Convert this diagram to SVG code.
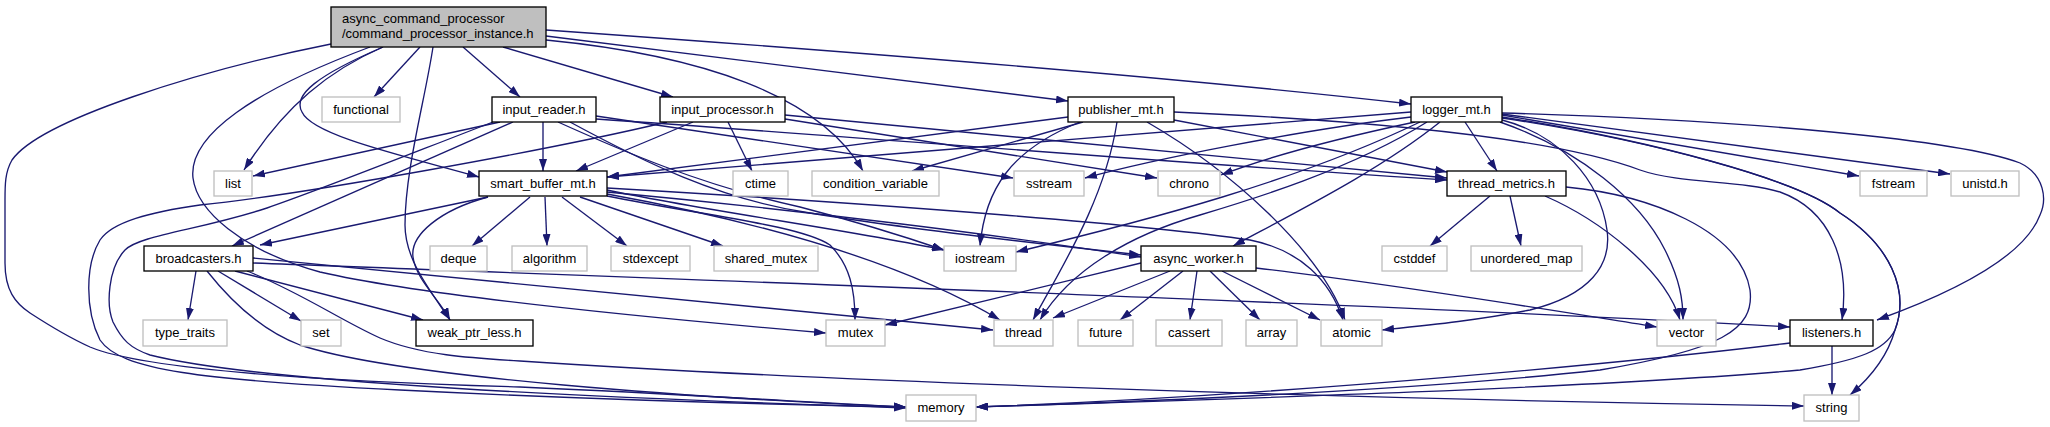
<svg xmlns="http://www.w3.org/2000/svg" width="2050" height="427" viewBox="0 0 2050 427">
<style>
text{font-family:"Liberation Sans",Arial,Helvetica,sans-serif;font-size:13px;fill:#000;text-anchor:middle}
.ext rect{fill:#fff;stroke:#bfbfbf;stroke-width:1.33}
.int rect{fill:#fff;stroke:#000;stroke-width:1.33}
.root rect{fill:#bfbfbf;stroke:#000;stroke-width:1.33}
.root text{text-anchor:start}
#edges path{fill:none;stroke:#191970;stroke-width:1.33;marker-end:url(#arr)}
</style>
<defs>
<marker id="arr" markerUnits="userSpaceOnUse" markerWidth="12" markerHeight="8" viewBox="0 0 12 8" refX="12" refY="4" orient="auto"><path d="M0,0 L12,4 L0,8 z" fill="#191970"/></marker>
</defs>
<rect width="2050" height="427" fill="#fff"/>
<g id="edges">
<path d="M331,44 C 200,70 40,120 12,160 C 5,172 5,185 5,200 L5,263 C 5,290 15,303 30,313 C 50,326 70,338 90,347 C 150,372 350,382 520,387 C 700,395 820,403 906,407"/>
<path d="M383,47 C 330,70 285,105 244,170"/>
<path d="M420,47 L374,97"/>
<path d="M383,47 C 318,75 292,95 302,112 C 312,135 400,155 479,177"/>
<path d="M370,47 C 255,90 188,135 193,178 C 197,210 240,250 320,272 C 420,295 650,318 826,333"/>
<path d="M433,47 C 425,100 405,170 405,225 C 405,260 430,290 450,320"/>
<path d="M463,47 L520,97"/>
<path d="M503,47 L673,97"/>
<path d="M546,40 C 700,55 820,95 863,171"/>
<path d="M546,36 C 800,68 1000,92 1068,101"/>
<path d="M546,30 C 900,55 1200,80 1411,104"/>
<path d="M500,122 L253,176"/>
<path d="M493,122 C 420,150 320,190 267,208 C 200,230 140,235 125,250 C 108,268 106,305 113,322 C 122,340 130,348 150,355 C 260,383 600,398 906,408"/>
<path d="M513,122 L232,246"/>
<path d="M543,122 L543,171"/>
<path d="M596,116 L1013,178"/>
<path d="M596,119 C 900,140 1200,165 1447,180"/>
<path d="M558,122 C 620,150 700,185 800,207 C 850,220 900,235 944,250"/>
<path d="M570,122 C 640,160 720,200 810,213 C 900,228 1050,245 1141,255"/>
<path d="M667,122 C 550,150 300,195 200,205 C 150,212 112,222 100,240 C 85,265 85,310 100,340 C 120,370 200,380 400,390 C 600,400 800,405 906,407"/>
<path d="M693,122 L576,171"/>
<path d="M728,122 L752,171"/>
<path d="M785,119 L1157,178"/>
<path d="M785,115 C 1000,135 1300,165 1447,178"/>
<path d="M1068,117 L607,177"/>
<path d="M1083,122 L912,171"/>
<path d="M1080,122 C 1010,150 985,190 980,246"/>
<path d="M1117,122 C 1105,200 1060,270 1033,320"/>
<path d="M1147,122 C 1230,170 1320,250 1345,320"/>
<path d="M1174,120 L1447,172"/>
<path d="M1174,112 C 1400,122 1560,140 1640,170 C 1680,184 1740,180 1780,192 C 1830,210 1850,260 1842,320"/>
<path d="M1411,112 L607,177"/>
<path d="M1411,117 C 1300,130 1150,160 1085,178"/>
<path d="M1415,122 C 1330,140 1260,160 1221,175"/>
<path d="M1420,122 C 1300,180 1150,220 1016,252"/>
<path d="M1427,122 C 1350,170 1250,200 1200,215 C 1130,235 1070,270 1040,320"/>
<path d="M1440,122 C 1380,170 1300,210 1233,246"/>
<path d="M1465,122 L1497,171"/>
<path d="M1502,120 C 1560,135 1600,180 1607,230 C 1612,265 1590,295 1530,310 C 1480,320 1430,325 1382,330"/>
<path d="M1500,122 C 1580,150 1640,200 1665,250 C 1680,280 1683,300 1683,320"/>
<path d="M1502,117 C 1650,140 1800,180 1840,213 C 1890,245 1910,290 1895,330 C 1885,350 1860,360 1800,370 C 1600,388 1200,400 976,407"/>
<path d="M1502,113 C 1750,120 1960,140 2020,163 C 2045,175 2047,200 2040,215 C 2025,255 1960,290 1877,320"/>
<path d="M1502,115 L1859,176"/>
<path d="M1502,114 L1950,174"/>
<path d="M1502,118 C 1650,140 1800,180 1840,213 C 1890,245 1910,290 1895,330 C 1888,355 1870,378 1850,395"/>
<path d="M1490,196 L1430,246"/>
<path d="M1510,196 L1521,246"/>
<path d="M1545,196 C 1600,220 1665,270 1680,320"/>
<path d="M1566,187 C 1650,195 1740,230 1750,290 C 1755,330 1720,350 1600,370 C 1400,392 1100,403 976,407"/>
<path d="M1832,346 L1832,395"/>
<path d="M1790,343 C 1650,360 1300,395 976,407"/>
<path d="M196,271 L188,320"/>
<path d="M218,271 L301,321"/>
<path d="M235,271 L423,320"/>
<path d="M207,271 C 230,300 260,330 300,345 C 400,378 700,398 906,407"/>
<path d="M247,271 C 300,292 340,320 380,338 C 420,355 470,358 520,361 C 800,380 1300,398 1804,406"/>
<path d="M253,263 C 700,280 1400,305 1790,327"/>
<path d="M253,258 L993,330"/>
<path d="M530,197 L472,246"/>
<path d="M545,197 L547,246"/>
<path d="M562,197 L627,246"/>
<path d="M580,197 L723,246"/>
<path d="M488,197 L260,245"/>
<path d="M488,197 C 440,210 410,235 413,257 C 416,280 440,300 450,320"/>
<path d="M607,190 C 700,210 850,230 944,250"/>
<path d="M607,192 C 800,210 1000,235 1141,257"/>
<path d="M607,188 C 900,205 1150,225 1250,240 C 1300,250 1330,280 1343,320"/>
<path d="M607,194 C 750,220 900,260 1000,320"/>
<path d="M607,196 C 700,215 800,225 830,245 C 850,265 855,290 855,320"/>
<path d="M1141,263 C 1050,285 950,310 885,325"/>
<path d="M1170,271 L1053,318"/>
<path d="M1183,271 L1120,320"/>
<path d="M1197,271 L1190,320"/>
<path d="M1210,271 L1260,320"/>
<path d="M1222,271 L1320,320"/>
<path d="M1256,268 C 1400,285 1550,310 1657,327"/>
</g>
<g id="root" class="root"><rect x="331" y="7" width="215" height="40"/><text x="342" y="23">async_command_processor</text><text x="342" y="38">/command_processor_instance.h</text></g>
<g id="functional" class="ext"><rect x="322" y="97" width="78" height="25"/><text x="361" y="114">functional</text></g>
<g id="input_reader" class="int"><rect x="492" y="97" width="104" height="25"/><text x="544" y="114">input_reader.h</text></g>
<g id="input_processor" class="int"><rect x="660" y="97" width="125" height="25"/><text x="722.5" y="114">input_processor.h</text></g>
<g id="publisher_mt" class="int"><rect x="1068" y="97" width="106" height="25"/><text x="1121" y="114">publisher_mt.h</text></g>
<g id="logger_mt" class="int"><rect x="1411" y="97" width="91" height="25"/><text x="1456.5" y="114">logger_mt.h</text></g>
<g id="list" class="ext"><rect x="214" y="171" width="38" height="25"/><text x="233" y="188">list</text></g>
<g id="smart_buffer_mt" class="int"><rect x="479" y="171" width="128" height="25"/><text x="543" y="188">smart_buffer_mt.h</text></g>
<g id="ctime" class="ext"><rect x="733" y="171" width="55" height="25"/><text x="760.5" y="188">ctime</text></g>
<g id="condition_variable" class="ext"><rect x="812" y="171" width="127" height="25"/><text x="875.5" y="188">condition_variable</text></g>
<g id="sstream" class="ext"><rect x="1014" y="171" width="70" height="25"/><text x="1049" y="188">sstream</text></g>
<g id="chrono" class="ext"><rect x="1158" y="171" width="62" height="25"/><text x="1189" y="188">chrono</text></g>
<g id="thread_metrics" class="int"><rect x="1447" y="171" width="119" height="25"/><text x="1506.5" y="188">thread_metrics.h</text></g>
<g id="fstream" class="ext"><rect x="1860" y="171" width="67" height="25"/><text x="1893.5" y="188">fstream</text></g>
<g id="unistd" class="ext"><rect x="1951" y="171" width="68" height="25"/><text x="1985" y="188">unistd.h</text></g>
<g id="broadcasters" class="int"><rect x="144" y="246" width="109" height="25"/><text x="198.5" y="263">broadcasters.h</text></g>
<g id="deque" class="ext"><rect x="430" y="246" width="57" height="25"/><text x="458.5" y="263">deque</text></g>
<g id="algorithm" class="ext"><rect x="512" y="246" width="75" height="25"/><text x="549.5" y="263">algorithm</text></g>
<g id="stdexcept" class="ext"><rect x="611" y="246" width="79" height="25"/><text x="650.5" y="263">stdexcept</text></g>
<g id="shared_mutex" class="ext"><rect x="714" y="246" width="104" height="25"/><text x="766" y="263">shared_mutex</text></g>
<g id="iostream" class="ext"><rect x="944" y="246" width="72" height="25"/><text x="980" y="263">iostream</text></g>
<g id="async_worker" class="int"><rect x="1141" y="246" width="115" height="25"/><text x="1198.5" y="263">async_worker.h</text></g>
<g id="cstddef" class="ext"><rect x="1382" y="246" width="65" height="25"/><text x="1414.5" y="263">cstddef</text></g>
<g id="unordered_map" class="ext"><rect x="1471" y="246" width="111" height="25"/><text x="1526.5" y="263">unordered_map</text></g>
<g id="type_traits" class="ext"><rect x="143" y="320" width="84" height="26"/><text x="185" y="337">type_traits</text></g>
<g id="set" class="ext"><rect x="301" y="320" width="40" height="26"/><text x="321" y="337">set</text></g>
<g id="weak_ptr_less" class="int"><rect x="416" y="320" width="117" height="26"/><text x="474.5" y="337">weak_ptr_less.h</text></g>
<g id="mutex" class="ext"><rect x="826" y="320" width="59" height="26"/><text x="855.5" y="337">mutex</text></g>
<g id="thread" class="ext"><rect x="994" y="320" width="59" height="26"/><text x="1023.5" y="337">thread</text></g>
<g id="future" class="ext"><rect x="1078" y="320" width="55" height="26"/><text x="1105.5" y="337">future</text></g>
<g id="cassert" class="ext"><rect x="1156" y="320" width="66" height="26"/><text x="1189" y="337">cassert</text></g>
<g id="array" class="ext"><rect x="1246" y="320" width="51" height="26"/><text x="1271.5" y="337">array</text></g>
<g id="atomic" class="ext"><rect x="1321" y="320" width="61" height="26"/><text x="1351.5" y="337">atomic</text></g>
<g id="vector" class="ext"><rect x="1657" y="320" width="59" height="26"/><text x="1686.5" y="337">vector</text></g>
<g id="listeners" class="int"><rect x="1790" y="320" width="83" height="26"/><text x="1831.5" y="337">listeners.h</text></g>
<g id="memory" class="ext"><rect x="906" y="395" width="70" height="26"/><text x="941" y="412">memory</text></g>
<g id="string" class="ext"><rect x="1804" y="395" width="55" height="26"/><text x="1831.5" y="412">string</text></g>
</svg>
